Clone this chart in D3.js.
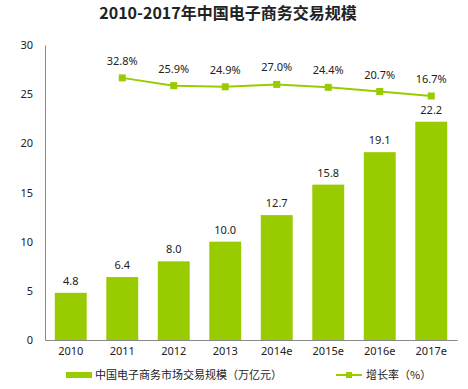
<!DOCTYPE html>
<html>
<head>
<meta charset="utf-8">
<script src="https://cdn.jsdelivr.net/npm/d3@7"></script>
<style>
  body { margin: 0; background: #fff; }
  text { font-family: "Noto Sans", "Noto Sans CJK SC", sans-serif; fill: #222; }
</style>
</head>
<body>
<div id="chart"></div>
<script>
// data
const years = ["2010", "2011", "2012", "2013", "2014e", "2015e", "2016e", "2017e"]
const scale = [4.8, 6.4, 8.0, 10.0, 12.7, 15.8, 19.1, 22.2]
const growth = [null, 32.8, 25.9, 24.9, 27.0, 24.4, 20.7, 16.7]
const yTicks = [0, 5, 10, 15, 20, 25, 30]

const width = 468
const height = 389
const margin = { top: 45, bottom: 49, left: 45, right: 11 }
const green = "#99cc00"

const svg = d3.select("div#chart").append("svg").attr("width", width).attr("height", height)

const x = d3.scaleBand().domain(years).range([margin.left, width - margin.right]).paddingInner(0.38).paddingOuter(0.19)
const y = d3.scaleLinear().domain([0, 30]).range([height - margin.bottom, margin.top])
// secondary axis for the growth line (not drawn)
const y2 = d3.scaleLinear().domain([-200, 62]).range([height - margin.bottom, margin.top])

// title
svg.append("text")
    .attr("x", 228).attr("y", 19)
    .attr("text-anchor", "middle")
    .style("font-family", "'Noto Sans CJK SC', sans-serif")
    .style("font-size", "16px").style("font-weight", "bold")
    .text("2010-2017年中国电子商务交易规模")

// axes
const yAxis = d3.axisLeft(y).tickValues(yTicks).tickSize(0).tickPadding(12)
const yAxisGroup = svg.append("g").attr("transform", `translate(${margin.left},0)`).call(yAxis)
yAxisGroup.select(".domain").attr("stroke", "#888")
yAxisGroup.selectAll("text").style("font-size", "11px")

const xAxis = d3.axisBottom(x).tickSize(0).tickPadding(7)
const xAxisGroup = svg.append("g").attr("transform", `translate(0,${height - margin.bottom})`).call(xAxis)
xAxisGroup.select(".domain").attr("stroke", "#888")
xAxisGroup.selectAll("text").style("font-size", "11px")

// bars
svg.append("g").selectAll("rect").data(scale).join("rect")
    .attr("x", (d, i) => x(years[i]))
    .attr("y", d => y(d))
    .attr("width", x.bandwidth())
    .attr("height", d => y(0) - y(d))
    .attr("fill", green)

svg.append("g").selectAll("text").data(scale).join("text")
    .attr("x", (d, i) => x(years[i]) + x.bandwidth() / 2)
    .attr("y", d => y(d) - 8)
    .attr("text-anchor", "middle")
    .style("font-size", "11px")
    .text(d => d.toFixed(1))

// growth line
const pts = growth.map((d, i) => ({ k: years[i], v: d })).filter(d => d.v !== null)
const line = d3.line().x(d => x(d.k) + x.bandwidth() / 2).y(d => y2(d.v))
svg.append("path").datum(pts)
    .attr("d", line)
    .attr("fill", "none")
    .attr("stroke", green)
    .attr("stroke-width", 2)

svg.append("g").selectAll("rect").data(pts).join("rect")
    .attr("x", d => x(d.k) + x.bandwidth() / 2 - 3.5)
    .attr("y", d => y2(d.v) - 3.5)
    .attr("width", 7).attr("height", 7)
    .attr("fill", green)

svg.append("g").selectAll("text").data(pts).join("text")
    .attr("x", d => x(d.k) + x.bandwidth() / 2)
    .attr("y", d => y2(d.v) - 13)
    .attr("text-anchor", "middle")
    .style("font-size", "11px")
    .text(d => d.v.toFixed(1) + "%")

// legend
const legend = svg.append("g").attr("transform", "translate(0,375)")
legend.append("rect").attr("x", 66).attr("y", -3).attr("width", 26).attr("height", 6).attr("fill", green)
legend.append("text").attr("x", 95).attr("y", 4)
    .style("font-family", "'Noto Sans CJK SC', sans-serif").style("font-size", "11px")
    .text("中国电子商务市场交易规模（万亿元）")
legend.append("line").attr("x1", 336).attr("x2", 362).attr("y1", 0).attr("y2", 0)
    .attr("stroke", green).attr("stroke-width", 2)
legend.append("rect").attr("x", 346).attr("y", -3).attr("width", 6).attr("height", 6).attr("fill", green)
legend.append("text").attr("x", 366).attr("y", 4)
    .style("font-family", "'Noto Sans CJK SC', sans-serif").style("font-size", "11px")
    .text("增长率（%）")
</script>
</body>
</html>
